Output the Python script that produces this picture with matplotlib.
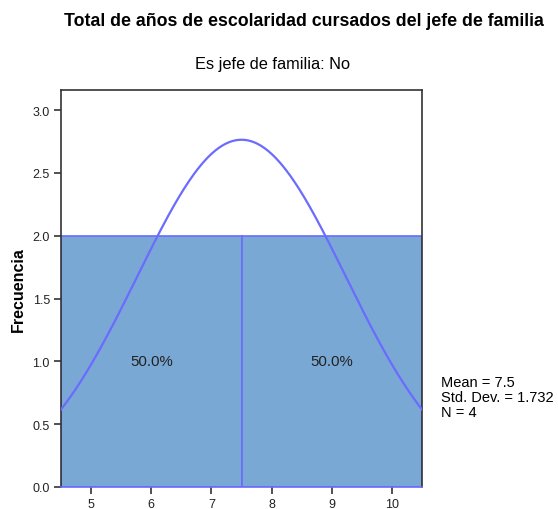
import numpy as np
import matplotlib
matplotlib.use("Agg")
import matplotlib.pyplot as plt

plt.rcParams['font.family'] = ['Liberation Sans', 'DejaVu Sans']

# histogram data
bin_edges = [4.5, 7.5, 10.5]
counts = [2, 2]
pct_labels = ['50.0%', '50.0%']
mean = 7.5
std = 1.732
n = 4

bar_color = '#7aa8d5'
edge_color = '#6b6bff'

W, H = 558, 510
fig = plt.figure(figsize=(W / 100, H / 100), dpi=100)
ax = fig.add_axes([61 / W, (H - 488) / H, (422 - 61) / W, (488 - 91) / H])

lefts = np.array(bin_edges[:-1])
widths = np.diff(bin_edges)
ax.bar(lefts, counts, width=widths, align='edge', color=bar_color,
       edgecolor=edge_color, linewidth=1.2, zorder=2)

for l, w, c, t in zip(lefts, widths, counts, pct_labels):
    ax.text(l + w / 2, c / 2, t, ha='center', va='center', fontsize=10.8,
            color='#222222', zorder=4)

# normal curve scaled to counts
xs = np.linspace(bin_edges[0], bin_edges[-1], 300)
scale = n * widths[0] / (std * np.sqrt(2 * np.pi))
ys = scale * np.exp(-0.5 * ((xs - mean) / std) ** 2)
ax.plot(xs, ys, color=edge_color, linewidth=1.6, zorder=3)

ax.set_xlim(4.5, 10.5)
ax.set_ylim(0, 3.16)
ax.set_xticks([5, 6, 7, 8, 9, 10])
ax.set_yticks([0.0, 0.5, 1.0, 1.5, 2.0, 2.5, 3.0])
ax.set_yticklabels(['0.0', '0.5', '1.0', '1.5', '2.0', '2.5', '3.0'])
ax.tick_params(direction='out', length=5, width=1.2, colors='#333333',
               labelsize=9, labelcolor='#222222', pad=3)
for s in ax.spines.values():
    s.set_color('#333333')
    s.set_linewidth(1.2)
ax.spines['bottom'].set_color(edge_color)

ax.set_ylabel('Frecuencia', fontsize=11.5, fontweight='bold', labelpad=5)

fig.text(304 / W, 1 - 22 / H, 'Total de años de escolaridad cursados del jefe de familia',
         ha='center', va='center', fontsize=12.8, fontweight='bold')
fig.text(273 / W, 1 - 64 / H, 'Es jefe de familia: No',
         ha='center', va='center', fontsize=11.8)
fig.text(441 / W, 1 - 398 / H,
         'Mean = %.1f\nStd. Dev. = %.3f\nN = %d' % (mean, std, n),
         ha='left', va='center', fontsize=10.5, linespacing=1.05)

fig.savefig('out.png', dpi=100)
